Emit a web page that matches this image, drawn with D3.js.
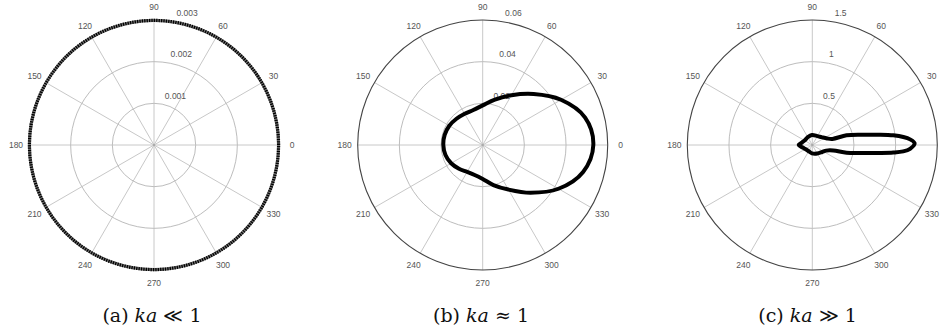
<!DOCTYPE html>
<html>
<head>
<meta charset="utf-8">
<script src="https://cdn.jsdelivr.net/npm/d3@7"></script>
<style>
  html, body { margin: 0; padding: 0; background: #fff; }
  svg { display: block; }
</style>
</head>
<body>
<svg id="chart" width="945" height="331"></svg>
<script>
// ---------------- data ----------------
const angleTicks = [0, 30, 60, 90, 120, 150, 180, 210, 240, 270, 300, 330];

// (a) ka << 1 : omnidirectional
const aRadialTicks = [0.001, 0.002, 0.003];
const aAngles = [0, 10, 20, 30, 40, 50, 60, 70, 80, 90, 100, 110, 120, 130, 140, 150, 160, 170,
                 180, 190, 200, 210, 220, 230, 240, 250, 260, 270, 280, 290, 300, 310, 320, 330, 340, 350];
const aValues = [0.00299, 0.00299, 0.00299, 0.00299, 0.00299, 0.00299, 0.00299, 0.00299, 0.00299,
                 0.00299, 0.00299, 0.00299, 0.00299, 0.00299, 0.00299, 0.00299, 0.00299, 0.00299,
                 0.00299, 0.00299, 0.00299, 0.00299, 0.00299, 0.00299, 0.00299, 0.00299, 0.00299,
                 0.00299, 0.00299, 0.00299, 0.00299, 0.00299, 0.00299, 0.00299, 0.00299, 0.00299];

// (b) ka ~ 1
const bRadialTicks = [0.02, 0.04, 0.06];
const bAngles = [0, 15, 30, 45, 60, 75, 90, 105, 120, 135, 150, 165,
                 180, 195, 210, 225, 240, 255, 270, 285, 300, 315, 330, 345];
const bValues = [0.0531, 0.0509, 0.0434, 0.0346, 0.0276, 0.0226, 0.0190, 0.0174, 0.0173, 0.0178, 0.0185, 0.0189,
                 0.0189, 0.0185, 0.0175, 0.0161, 0.0149, 0.0149, 0.0163, 0.0199, 0.0247, 0.0324, 0.0420, 0.0499];

// (c) ka >> 1
const cRadialTicks = [0.5, 1, 1.5];
const cAngles = [1, 3.3, 5.0, 6.8, 8.65, 11.6, 15.8, 16.8, 24, 40, 60, 92, 120, 150, 165,
                 180, 195, 210, 240, 268, 300, 325, 338, 345.3, 347.3, 350.9, 353.3, 354.7, 356, 357.8];
const cValues = [1.228, 1.175, 1.097, 0.979, 0.822, 0.612, 0.427, 0.252, 0.194, 0.146, 0.123, 0.12, 0.108, 0.107, 0.125,
                 0.164, 0.118, 0.097, 0.086, 0.10, 0.118, 0.146, 0.18, 0.26, 0.422, 0.607, 0.818, 0.976, 1.094, 1.174];

const captionLabels = ["(a)", "(b)", "(c)"];
const captionRelations = ["\u226A 1", "\u2248 1", "\u226B 1"];

// ---------------- drawing ----------------
const W = 945;
const svg = d3.select("#chart");
const R = 125;
const panels = [
  { cx: 154,   cy: 145, capX: 152,   ticks: aRadialTicks, angles: aAngles, values: aValues, style: "dotted" },
  { cx: 482.7, cy: 145, capX: 481,   ticks: bRadialTicks, angles: bAngles, values: bValues, style: "thick" },
  { cx: 812.3, cy: 145, capX: 807.5, ticks: cRadialTicks, angles: cAngles, values: cValues, style: "thick" }
];
const toRad = d => d * Math.PI / 180;
const labelR = 138;

panels.forEach((p, i) => {
  const rMax = p.ticks[p.ticks.length - 1];
  const r = d3.scaleLinear().domain([0, rMax]).range([0, R]);
  const g = svg.append("g").attr("transform", `translate(${p.cx},${p.cy})`);

  // spokes
  g.selectAll("line.spoke").data(angleTicks).join("line")
    .attr("class", "spoke")
    .attr("x1", 0).attr("y1", 0)
    .attr("x2", d => R * Math.cos(toRad(d)))
    .attr("y2", d => -R * Math.sin(toRad(d)))
    .attr("stroke", "#c8c8c8").attr("stroke-width", 1);

  // inner rings
  g.selectAll("circle.ring").data(p.ticks.slice(0, -1)).join("circle")
    .attr("class", "ring")
    .attr("r", d => r(d))
    .attr("fill", "none").attr("stroke", "#bdbdbd").attr("stroke-width", 1);

  // outer ring
  g.append("circle").attr("r", R).attr("fill", "none")
    .attr("stroke", "#444").attr("stroke-width", 1.1);

  // angle labels (those falling outside the page are cropped away, as in the original)
  const visibleTicks = angleTicks.filter(d => p.cx + labelR * Math.cos(toRad(d)) < W - 6);
  g.selectAll("text.ang").data(visibleTicks).join("text")
    .attr("class", "ang")
    .attr("x", d => labelR * Math.cos(toRad(d)))
    .attr("y", d => -labelR * Math.sin(toRad(d)))
    .attr("text-anchor", "middle").attr("dominant-baseline", "central")
    .attr("font-family", "Liberation Sans, Arial, sans-serif")
    .attr("font-size", 8.5).attr("fill", "#555")
    .text(d => d);

  // radial tick labels
  g.selectAll("text.rt").data(p.ticks).join("text")
    .attr("class", "rt")
    .attr("x", d => r(d) * Math.cos(toRad(82)) + 5)
    .attr("y", d => -(r(d) * Math.sin(toRad(82)) + 5))
    .attr("text-anchor", "start")
    .attr("font-family", "Liberation Sans, Arial, sans-serif")
    .attr("font-size", 8.5).attr("fill", "#555")
    .text(d => d);

  // data curve
  const pts = p.angles.map((a, k) => ({ a, v: p.values[k] }));
  const line = d3.lineRadial()
    .angle(d => toRad(90 - d.a))
    .radius(d => r(d.v))
    .curve(d3.curveCatmullRomClosed.alpha(0.5));

  if (p.style === "dotted") {
    g.append("path").datum(pts).attr("d", line)
      .attr("fill", "none").attr("stroke", "#777").attr("stroke-width", 3.2);
    g.append("path").datum(pts).attr("d", line)
      .attr("fill", "none").attr("stroke", "#000").attr("stroke-width", 3.2)
      .attr("stroke-dasharray", "1.3,1.1");
  } else {
    g.append("path").datum(pts).attr("d", line)
      .attr("fill", "none").attr("stroke", "#000").attr("stroke-width", 4)
      .attr("stroke-linejoin", "round");
  }
  // small centre marker
  g.append("circle").attr("r", 1.2).attr("fill", "#aaa");

  // caption
  const cap = svg.append("text")
    .attr("x", p.capX).attr("y", 322)
    .attr("text-anchor", "middle")
    .attr("font-family", "'DejaVu Serif', 'Liberation Serif', serif")
    .attr("font-size", 19).attr("fill", "#111");
  cap.append("tspan").text(captionLabels[i] + " ");
  cap.append("tspan").attr("font-style", "italic").text("ka");
  cap.append("tspan").text(" " + captionRelations[i]);
});
</script>
</body>
</html>
